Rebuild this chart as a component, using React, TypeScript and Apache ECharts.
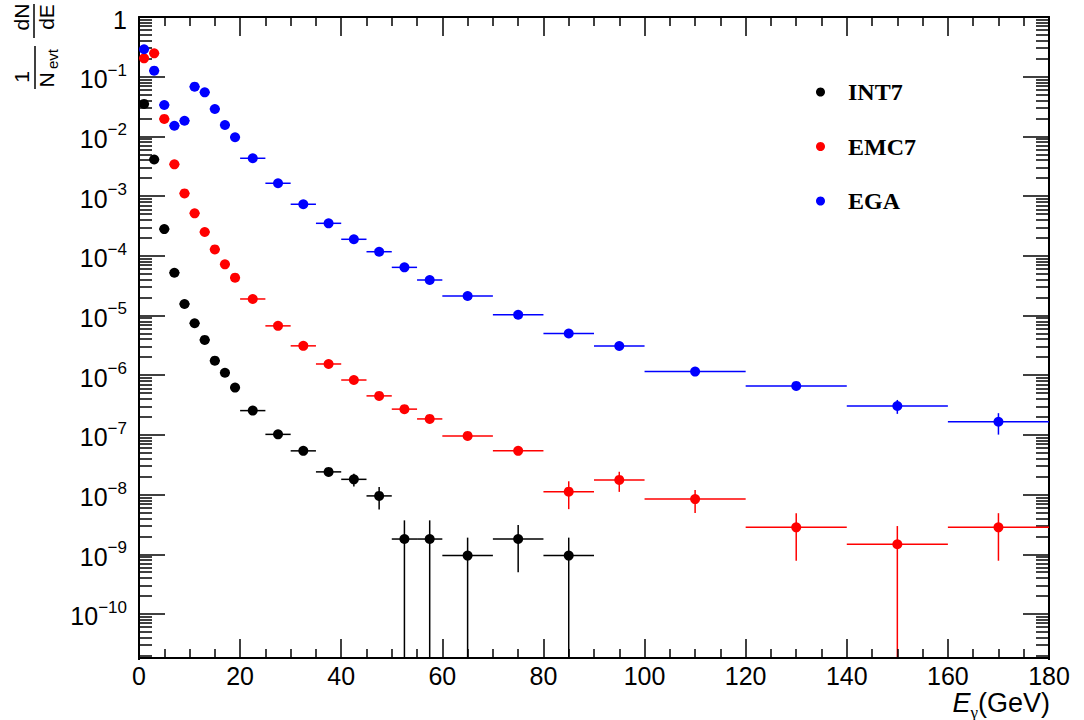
import React, { useEffect, useRef } from 'react';
import * as echarts from 'echarts';

// Bin edges (GeV)
const binLow = [0, 2, 4, 6, 8, 10, 12, 14, 16, 18, 20, 25, 30, 35, 40, 45, 50, 55, 60, 70, 80, 90, 100, 120, 140, 160];
const binHigh = [2, 4, 6, 8, 10, 12, 14, 16, 18, 20, 25, 30, 35, 40, 45, 50, 55, 60, 70, 80, 90, 100, 120, 140, 160, 180];

// 1/N_evt dN/dE per trigger
const int7 = [0.035, 4.1e-3, 2.8e-4, 5.2e-5, 1.56e-5, 7.4e-6, 3.9e-6, 1.75e-6, 1.1e-6, 6.2e-7, 2.55e-7, 1.02e-7, 5.4e-8, 2.4e-8, 1.8e-8, 9.5e-9, 1.8e-9, 1.8e-9, 9.5e-10, 1.8e-9, 9.5e-10, null, null, null, null, null];
const int7Err = [0, 0, 0, 0, 0, 0, 0, 0, 0, 0, 0, 3e-9, 5e-9, 3.6e-9, 4.3e-9, 3.9e-9, 1.9e-9, 1.9e-9, 9.5e-10, 1.3e-9, 9.5e-10, null, null, null, null, null];

const emc7 = [0.203, 0.246, 0.0196, 3.4e-3, 1.11e-3, 5.15e-4, 2.5e-4, 1.28e-4, 7.2e-5, 4.3e-5, 1.89e-5, 6.7e-6, 3.1e-6, 1.54e-6, 8.3e-7, 4.5e-7, 2.7e-7, 1.85e-7, 9.6e-8, 5.4e-8, 1.12e-8, 1.76e-8, 8.4e-9, 2.83e-9, 1.47e-9, 2.83e-9];
const emc7Err = [0, 0, 0, 0, 0, 0, 0, 0, 0, 0, 0, 0, 0, 0, 0, 0, 0, 0, 3e-9, 3e-9, 5.5e-9, 6.5e-9, 3.5e-9, 2.05e-9, 1.5e-9, 2.05e-9];

const ega = [0.288, 0.126, 0.0336, 0.0151, 0.0183, 0.068, 0.0547, 0.0288, 0.0155, 9.66e-3, 4.3e-3, 1.64e-3, 7.3e-4, 3.5e-4, 1.89e-4, 1.17e-4, 6.4e-5, 3.93e-5, 2.12e-5, 1.03e-5, 5.0e-6, 3.08e-6, 1.15e-6, 6.6e-7, 3.05e-7, 1.66e-7];
const egaErr = [0, 0, 0, 0, 0, 0, 0, 0, 0, 0, 0, 0, 0, 0, 0, 0, 0, 0, 0, 0, 0, 0, 5e-8, 4e-8, 8e-8, 6.5e-8];

const seriesNames = ['INT7', 'EMC7', 'EGA'];
const seriesColors = ['#000000', '#ff0000', '#0000ff'];

const xTicks = [0, 20, 40, 60, 80, 100, 120, 140, 160, 180];
// y axis: decades from 1e-11 to 1; the visible frame starts at Y_FRAME_MIN
const Y_AXIS_MIN = 1e-11;
const Y_AXIS_MAX = 1;
const Y_FRAME_MIN = 1.83e-11;
const Y_LOWEST_LABEL_EXP = -10;

const FONT = '"Liberation Sans", Arial, Helvetica, sans-serif';

// frame geometry
const FRAME_LEFT = 139;
const FRAME_RIGHT = 1049;
const FRAME_TOP = 17;
const FRAME_BOTTOM = 658;
const DECADE_PX = (FRAME_BOTTOM - FRAME_TOP) / (Math.log10(Y_AXIS_MAX) - Math.log10(Y_FRAME_MIN));
const AXIS_BOTTOM = FRAME_TOP + DECADE_PX * (Math.log10(Y_AXIS_MAX) - Math.log10(Y_AXIS_MIN));

function pointData(vals: (number | null)[]) {
  const out: number[][] = [];
  vals.forEach((v, i) => {
    if (v == null) return;
    out.push([(binLow[i] + binHigh[i]) / 2, v]);
  });
  return out;
}

function errData(vals: (number | null)[], errs: (number | null)[]) {
  const out: number[][] = [];
  vals.forEach((v, i) => {
    if (v == null) return;
    out.push([binLow[i], binHigh[i], (binLow[i] + binHigh[i]) / 2, v, errs[i] ?? 0]);
  });
  return out;
}

function errSeries(name: string, vals: (number | null)[], errs: (number | null)[], color: string) {
  return {
    type: 'custom',
    name: name + ' err',
    silent: true,
    z: 2,
    renderItem: (params: any, api: any) => {
      const xl = api.value(0);
      const xh = api.value(1);
      const xc = api.value(2);
      const y = api.value(3);
      const e = api.value(4);
      const p1 = api.coord([xl, y]);
      const p2 = api.coord([xh, y]);
      const lo = Math.max(y - e, Y_FRAME_MIN);
      const hi = y + e;
      const q1 = api.coord([xc, lo]);
      const q2 = api.coord([xc, hi]);
      const children: any[] = [
        { type: 'line', shape: { x1: p1[0], y1: p1[1], x2: p2[0], y2: p2[1] }, style: { stroke: color, lineWidth: 1.5 } },
      ];
      if (e > 0) {
        children.push({ type: 'line', shape: { x1: q1[0], y1: q1[1], x2: q2[0], y2: q2[1] }, style: { stroke: color, lineWidth: 1.5 } });
      }
      return { type: 'group', children };
    },
    encode: { x: [0, 1, 2], y: [3] },
    data: errData(vals, errs),
  };
}

function yLabel(v: number) {
  const l = Math.log10(v);
  const e = Math.round(l);
  if (Math.abs(l - e) > 1e-6) return '';
  if (e < Y_LOWEST_LABEL_EXP) return '';
  if (e === 0) return '{b|1}';
  return '{b|10}{s|\u2212' + -e + '}';
}

const yRich = {
  b: { fontSize: 25, lineHeight: 30, verticalAlign: 'bottom', fontFamily: FONT, color: '#000' },
  s: { fontSize: 17, lineHeight: 17, verticalAlign: 'top', fontFamily: FONT, color: '#000' },
};

export default function App() {
  const ref = useRef<HTMLDivElement>(null);
  useEffect(() => {
    if (!ref.current) return;
    const chart = echarts.init(ref.current, undefined, { renderer: 'svg' });
    const axisLineStyle = { color: '#000', width: 2 };
    const tickStyle = { color: '#000', width: 1.5 };
    const xBase = (pos: 'bottom' | 'top', showLabel: boolean, offset: number) => ({
      type: 'value',
      min: xTicks[0],
      max: xTicks[xTicks.length - 1],
      interval: xTicks[1] - xTicks[0],
      position: pos,
      offset,
      z: 10,
      axisLine: { show: true, onZero: false, lineStyle: axisLineStyle },
      axisTick: { show: true, inside: true, length: 19, lineStyle: tickStyle },
      minorTick: { show: true, splitNumber: 4, length: 9, lineStyle: tickStyle },
      splitLine: { show: false },
      minorSplitLine: { show: false },
      axisLabel: { show: showLabel, fontSize: 25, fontFamily: FONT, color: '#000', margin: 5 },
    });
    const yBase = (pos: 'left' | 'right', showLabel: boolean) => ({
      type: 'log',
      logBase: 10,
      min: Y_AXIS_MIN,
      max: Y_AXIS_MAX,
      interval: 1,
      position: pos,
      z: 1,
      axisLine: { show: true, onZero: false, lineStyle: axisLineStyle },
      axisTick: { show: true, inside: true, length: 26, lineStyle: tickStyle },
      minorTick: { show: true, splitNumber: 9, length: 13, lineStyle: tickStyle },
      splitLine: { show: false },
      minorSplitLine: { show: false },
      axisLabel: { show: showLabel, formatter: yLabel, rich: yRich, margin: 12, color: '#000' },
    });

    const scatter = (name: string, vals: (number | null)[], color: string) => ({
      type: 'scatter',
      name,
      symbol: 'circle',
      symbolSize: 10,
      z: 3,
      itemStyle: { color, opacity: 1 },
      data: pointData(vals),
    });

    const textStyle = (text: string, size: number) => ({
      text, font: size + 'px ' + FONT, fill: '#000',
      align: 'center', verticalAlign: 'middle', textAlign: 'center', textVerticalAlign: 'middle',
    });

    chart.setOption({
      animation: false,
      backgroundColor: '#ffffff',
      grid: { left: FRAME_LEFT, right: 1084 - FRAME_RIGHT, top: FRAME_TOP, bottom: 720 - AXIS_BOTTOM, containLabel: false, outerBoundsMode: 'none' },
      xAxis: [xBase('bottom', true, -(AXIS_BOTTOM - FRAME_BOTTOM)), xBase('top', false, 0)],
      yAxis: [yBase('left', true), yBase('right', false)],
      legend: {
        data: seriesNames,
        orient: 'vertical',
        left: 811,
        top: 75,
        icon: 'circle',
        itemWidth: 9,
        itemHeight: 9,
        itemGap: 30.5,
        selectedMode: false,
        textStyle: { fontFamily: '"Liberation Serif", "Times New Roman", serif', fontWeight: 'bold', fontSize: 24, lineHeight: 24, color: '#000', padding: [0, 0, 0, 18] },
      },
      graphic: [
        // hide the part of the log axes below the frame
        { type: 'rect', z: 5, silent: true, shape: { x: FRAME_LEFT - 15, y: FRAME_BOTTOM + 2, width: 45, height: 22 }, style: { fill: '#fff' } },
        { type: 'rect', z: 5, silent: true, shape: { x: FRAME_RIGHT - 30, y: FRAME_BOTTOM + 2, width: 45, height: 22 }, style: { fill: '#fff' } },
        // y-axis title: 1/N_evt dN/dE rotated
        { type: 'text', z: 20, x: 21, y: 17, rotation: Math.PI / 2, style: textStyle('dN', 21) },
        { type: 'text', z: 20, x: 46, y: 17, rotation: Math.PI / 2, style: textStyle('dE', 21) },
        { type: 'line', z: 20, shape: { x1: 34, y1: 4, x2: 34, y2: 38 }, style: { stroke: '#000', lineWidth: 1.5 } },
        { type: 'text', z: 20, x: 21, y: 77, rotation: Math.PI / 2, style: textStyle('1', 21) },
        { type: 'text', z: 20, x: 46, y: 80, rotation: Math.PI / 2, style: textStyle('N', 21) },
        { type: 'text', z: 20, x: 52, y: 59, rotation: Math.PI / 2, style: textStyle('evt', 15) },
        { type: 'line', z: 20, shape: { x1: 35, y1: 46, x2: 35, y2: 89 }, style: { stroke: '#000', lineWidth: 1.5 } },
        // x-axis title
        {
          type: 'text', z: 20, x: 1050, y: 703,
          style: {
            text: '{e|E}{g|\u03b3}{t|(GeV)}',
            align: 'right', verticalAlign: 'middle', textAlign: 'right', textVerticalAlign: 'middle',
            fill: '#000',
            rich: {
              e: { fontSize: 27, fontStyle: 'italic', fontFamily: FONT, fill: '#000', color: '#000' },
              g: { fontSize: 17, fontFamily: 'Liberation Serif, serif', padding: [18, 0, 0, 0], fill: '#000', color: '#000' },
              t: { fontSize: 27, fontFamily: FONT, fill: '#000', color: '#000' },
            },
          },
        },
      ],
      series: [
        errSeries(seriesNames[0], int7, int7Err, seriesColors[0]),
        errSeries(seriesNames[1], emc7, emc7Err, seriesColors[1]),
        errSeries(seriesNames[2], ega, egaErr, seriesColors[2]),
        scatter(seriesNames[0], int7, seriesColors[0]),
        scatter(seriesNames[1], emc7, seriesColors[1]),
        scatter(seriesNames[2], ega, seriesColors[2]),
      ],
    });
    return () => chart.dispose();
  }, []);
  return <div ref={ref} style={{ position: 'absolute', left: 0, top: 0, width: 1084, height: 720 }} />;
}
